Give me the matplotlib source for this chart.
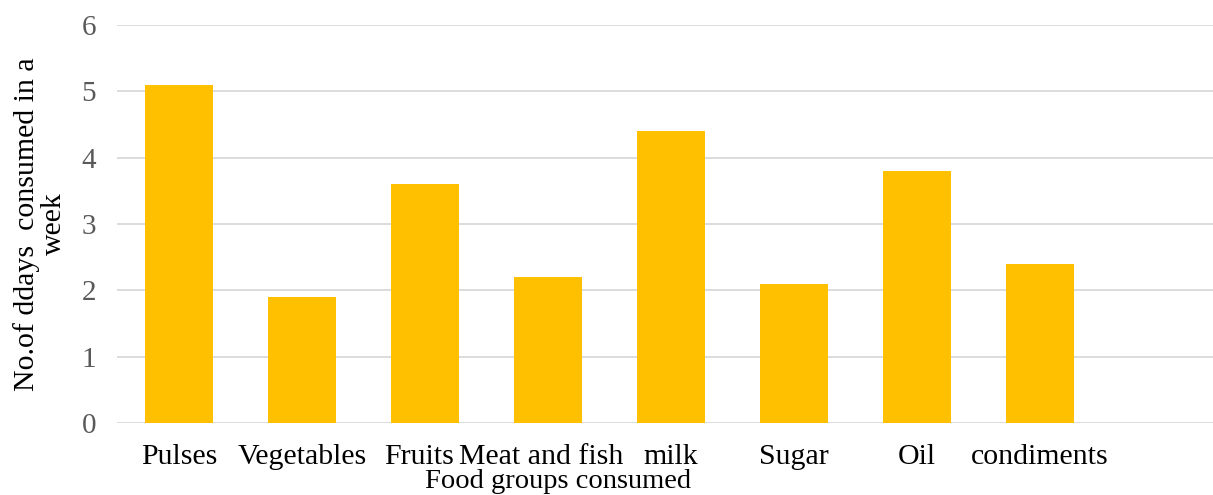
import numpy as np
import matplotlib.pyplot as plt
import matplotlib.transforms as mtransforms

# Food groups and days consumed per week
groups = ['Pulses', 'Vegetables', 'Fruits', 'Meat and fish', 'milk', 'Sugar', 'Oil', 'condiments']
days = [5.1, 1.9, 3.6, 2.2, 4.4, 2.1, 3.8, 2.4]

plt.rcParams['font.family'] = ['Liberation Serif', 'DejaVu Serif']

fig = plt.figure(figsize=(12.13, 4.95), dpi=100)
ax = fig.add_axes([0.0965, 0.1455, 0.9035, 0.804])

x = np.arange(len(groups))
ax.bar(x, days, width=0.553, color='#FFC000', zorder=3)

ax.set_ylim(0, 6)
ax.set_xlim(-0.504, 8.41)
ax.set_yticks(range(0, 7))
ax.yaxis.grid(True, color='#D9D9D9', linewidth=1.3, zorder=0)
for s in ax.spines.values():
    s.set_visible(False)
ax.tick_params(axis='both', length=0)
ax.tick_params(axis='y', labelsize=21, labelcolor='#595959', pad=15)
ax.set_xticks(x)
ax.set_xticklabels(groups, fontsize=21.5)
ax.tick_params(axis='x', pad=15)
# Fruits and Meat and fish labels sit a bit left of their bars
for lbl, dx in zip(ax.get_xticklabels(), [0, 0, -6, -7, 0, 0, 0, 0]):
    lbl.set_transform(lbl.get_transform() + mtransforms.ScaledTranslation(dx / 100, 0, fig.dpi_scale_trans))

ax.set_ylabel('No.of ddays  consumed in a\nweek', fontsize=21.5, linespacing=1.05)
ax.yaxis.set_label_coords(-0.046, 0.5)
ax.set_xlabel('Food groups consumed', fontsize=20.5, va='top')
ax.xaxis.set_label_coords((558 - 117) / 1096, -0.116)

fig.savefig('out.png', dpi=100)
